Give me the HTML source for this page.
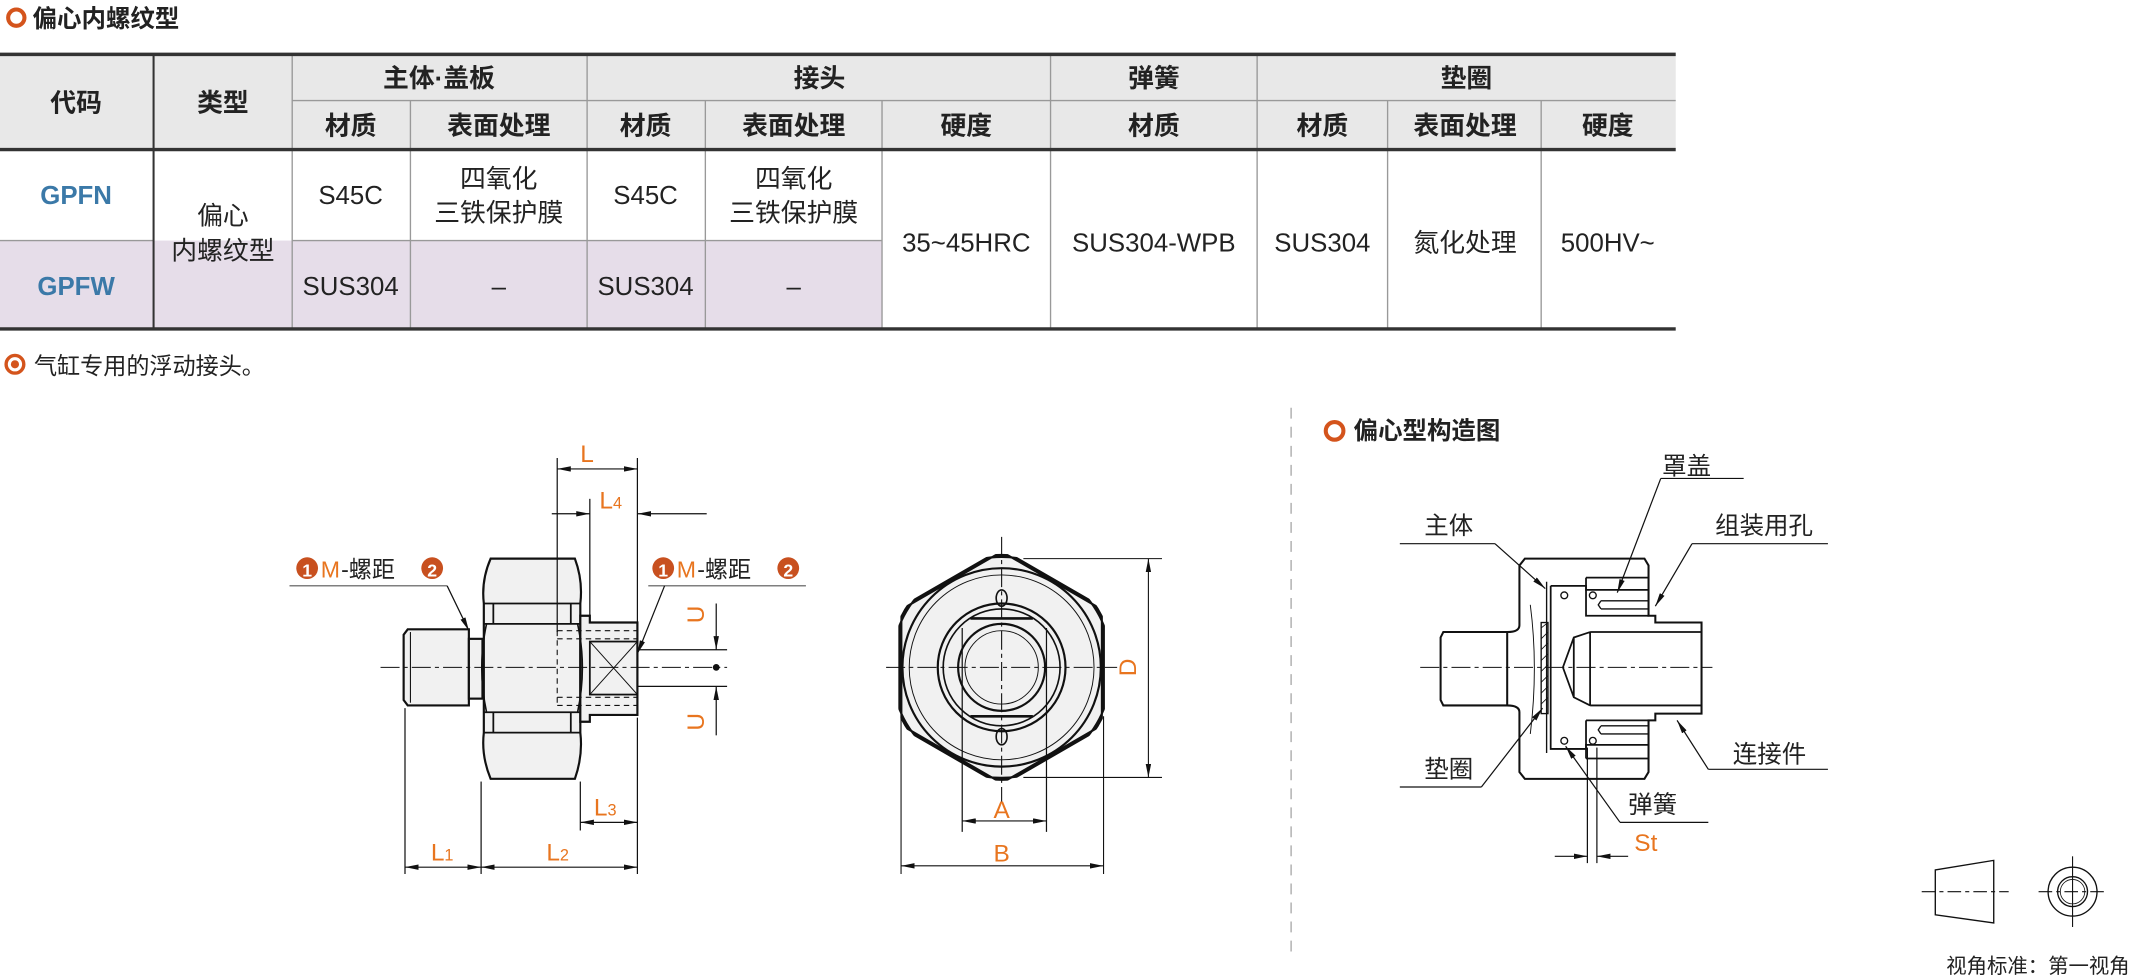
<!DOCTYPE html>
<html><head><meta charset="utf-8"><style>
html,body{margin:0;padding:0;background:#fff;}
svg{display:block;}
text{font-family:"Liberation Sans","Noto Sans CJK SC",sans-serif;fill:#222;}
.c{text-anchor:middle;}
.o{fill:#e8751f;}
.b{fill:#3b79a8;font-weight:bold;}
</style></head><body>
<svg width="2131" height="980" viewBox="0 0 1568 721" preserveAspectRatio="none" xmlns="http://www.w3.org/2000/svg">
<defs>
<marker id="a" viewBox="0 0 10 4" refX="10" refY="2" markerWidth="10" markerHeight="4" markerUnits="userSpaceOnUse" orient="auto-start-reverse"><path d="M0,0L10,2L0,4z" fill="#111"/></marker>
<clipPath id="cc"><circle cx="737" cy="491" r="82"/></clipPath>
<clipPath id="hc"><polygon points="737,405 811.5,448 811.5,534 737,577 662.5,534 662.5,448"/></clipPath>
</defs>

<!-- title -->
<circle cx="12" cy="13" r="6" fill="none" stroke="#d4541c" stroke-width="3"/>
<text x="24" y="20" font-size="18" font-weight="bold">偏心内螺纹型</text>

<!-- table backgrounds -->
<rect x="0" y="40" width="1233" height="70" fill="#e8e8e8"/>
<rect x="0" y="177" width="649" height="65" fill="#e6dde9"/>
<rect x="0" y="110" width="113" height="67" fill="#fff"/>
<g stroke="#999" stroke-width="1">
<line x1="215" y1="74" x2="1233" y2="74"/>
<line x1="0" y1="177" x2="113" y2="177"/>
<line x1="215" y1="177" x2="649" y2="177"/>
<line x1="215" y1="40" x2="215" y2="242"/>
<line x1="302" y1="74" x2="302" y2="242"/>
<line x1="432" y1="40" x2="432" y2="242"/>
<line x1="519" y1="74" x2="519" y2="242"/>
<line x1="649" y1="74" x2="649" y2="242"/>
<line x1="773" y1="40" x2="773" y2="242"/>
<line x1="925" y1="40" x2="925" y2="242"/>
<line x1="1021" y1="74" x2="1021" y2="242"/>
<line x1="1134" y1="74" x2="1134" y2="242"/>
</g>
<line x1="113" y1="40" x2="113" y2="242" stroke="#333" stroke-width="1.5"/>
<line x1="0" y1="40" x2="1233" y2="40" stroke="#333" stroke-width="2.5"/>
<line x1="0" y1="110" x2="1233" y2="110" stroke="#333" stroke-width="2.5"/>
<line x1="0" y1="242" x2="1233" y2="242" stroke="#333" stroke-width="2.5"/>

<g font-size="19" class="c">
<text x="56" y="82" class="c" font-weight="bold">代码</text>
<text x="164" y="82" class="c" font-weight="bold">类型</text>
<text x="323" y="64" class="c" font-weight="bold">主体·盖板</text>
<text x="603" y="64" class="c" font-weight="bold">接头</text>
<text x="849" y="64" class="c" font-weight="bold">弹簧</text>
<text x="1079" y="64" class="c" font-weight="bold">垫圈</text>
<text x="258" y="99" class="c" font-weight="bold">材质</text>
<text x="367" y="99" class="c" font-weight="bold">表面处理</text>
<text x="475" y="99" class="c" font-weight="bold">材质</text>
<text x="584" y="99" class="c" font-weight="bold">表面处理</text>
<text x="711" y="99" class="c" font-weight="bold">硬度</text>
<text x="849" y="99" class="c" font-weight="bold">材质</text>
<text x="973" y="99" class="c" font-weight="bold">材质</text>
<text x="1078" y="99" class="c" font-weight="bold">表面处理</text>
<text x="1183" y="99" class="c" font-weight="bold">硬度</text>
<text x="56" y="150" class="c b">GPFN</text>
<text x="56" y="217" class="c b">GPFW</text>
<text x="164" y="165" class="c">偏心</text>
<text x="164" y="191" class="c">内螺纹型</text>
<text x="258" y="150" class="c">S45C</text>
<text x="367" y="138" class="c">四氧化</text>
<text x="367" y="163" class="c">三铁保护膜</text>
<text x="475" y="150" class="c">S45C</text>
<text x="584" y="138" class="c">四氧化</text>
<text x="584" y="163" class="c">三铁保护膜</text>
<text x="258" y="217" class="c">SUS304</text>
<text x="367" y="217" class="c">–</text>
<text x="475" y="217" class="c">SUS304</text>
<text x="584" y="217" class="c">–</text>
<text x="711" y="185" class="c">35~45HRC</text>
<text x="849" y="185" class="c">SUS304-WPB</text>
<text x="973" y="185" class="c">SUS304</text>
<text x="1078" y="185" class="c">氮化处理</text>
<text x="1183" y="185" class="c">500HV~</text>
</g>

<circle cx="11" cy="268" r="6.5" fill="none" stroke="#d4541c" stroke-width="2.5"/>
<circle cx="11" cy="268" r="3" fill="#d4541c"/>
<text x="25" y="275" font-size="17">气缸专用的浮动接头。</text>

<!-- ===== side view ===== -->
<g stroke="#111" stroke-width="1.6" fill="#f1f1f1">
<path d="M300,463 H345 V519 H300 L297,515 V467 Z"/>
<rect x="345" y="470" width="10" height="44"/>
<path d="M361,411 H423 Q429,427 427,444 V539 Q429,556 423,573 H361 Q354,556 356,539 V444 Q354,427 361,411 Z"/>
<path d="M427,453 H434 V458 H469 V526 H434 V531 H427 Z"/>
</g>
<g stroke="#111" stroke-width="1.3" fill="none">
<line x1="302" y1="465" x2="302" y2="517" stroke-width="0.8"/>
<path d="M356,444 H427 M363,444 V459 M420,444 V459 M356,459 H427 M356,524 H427 M363,524 V539 M420,524 V539 M356,539 H427"/>
<path d="M358,459 Q351,491 358,524 M425,459 Q432,491 425,524" stroke-width="1.2"/>
<rect x="434" y="472" width="35" height="39" stroke-width="1.3"/>
<path d="M434,472 L469,511 M469,472 L434,511" stroke-width="0.7"/>
<path d="M410,464 H469 M410,470 H469 M410,513 H469 M410,519 H469 M410,464 V519" stroke-dasharray="4,3" stroke-width="0.8"/>
</g>
<line x1="280" y1="491" x2="535" y2="491" stroke="#111" stroke-width="0.8" stroke-dasharray="14,3,3,3"/>
<circle cx="527" cy="491" r="2.5" fill="#111"/>
<g stroke="#111" stroke-width="0.9" fill="none">
<line x1="410" y1="337" x2="410" y2="465"/>
<line x1="469" y1="337" x2="469" y2="458"/>
<line x1="434" y1="367" x2="434" y2="453"/>
<line x1="410" y1="345" x2="469" y2="345" marker-start="url(#a)" marker-end="url(#a)"/>
<line x1="406" y1="378" x2="434" y2="378" marker-end="url(#a)"/>
<line x1="520" y1="378" x2="469" y2="378" marker-end="url(#a)"/>
<line x1="469" y1="478" x2="535" y2="478"/>
<line x1="469" y1="505" x2="535" y2="505"/>
<line x1="527" y1="444" x2="527" y2="478" marker-end="url(#a)"/>
<line x1="527" y1="541" x2="527" y2="505" marker-end="url(#a)"/>
<line x1="298" y1="521" x2="298" y2="643"/>
<line x1="354" y1="575" x2="354" y2="643"/>
<line x1="427" y1="575" x2="427" y2="611"/>
<line x1="469" y1="528" x2="469" y2="643"/>
<line x1="298" y1="638" x2="354" y2="638" marker-start="url(#a)" marker-end="url(#a)"/>
<line x1="354" y1="638" x2="469" y2="638" marker-start="url(#a)" marker-end="url(#a)"/>
<line x1="427" y1="605" x2="469" y2="605" marker-start="url(#a)" marker-end="url(#a)"/>
<line x1="213" y1="431" x2="329" y2="431" stroke="#555"/>
<line x1="329" y1="431" x2="345" y2="464" marker-end="url(#a)"/>
<line x1="477" y1="431" x2="593" y2="431" stroke="#555"/>
<line x1="489" y1="431" x2="469" y2="481" marker-end="url(#a)"/>
</g>
<g font-size="18">
<text x="432" y="340" class="c o">L</text>
<text x="441" y="374" class="o">L<tspan font-size="12">4</tspan></text>
<text x="437" y="600" class="o">L<tspan font-size="12">3</tspan></text>
<text x="317" y="633" class="o">L<tspan font-size="12">1</tspan></text>
<text x="402" y="633" class="o">L<tspan font-size="12">2</tspan></text>
<text transform="translate(518,452) rotate(-90)" class="c o">U</text>
<text transform="translate(518,531) rotate(-90)" class="c o">U</text>
</g>
<g font-size="17">
<circle cx="226" cy="418" r="8" fill="#c8501f"/><text x="226" y="424" class="c" style="fill:#fff" font-size="13" font-weight="bold">1</text>
<text x="236" y="425" class="o">M</text><text x="251" y="425">-螺距</text>
<circle cx="318" cy="418" r="8" fill="#c8501f"/><text x="318" y="424" class="c" style="fill:#fff" font-size="13" font-weight="bold">2</text>
<circle cx="488" cy="418" r="8" fill="#c8501f"/><text x="488" y="424" class="c" style="fill:#fff" font-size="13" font-weight="bold">1</text>
<text x="498" y="425" class="o">M</text><text x="513" y="425">-螺距</text>
<circle cx="580" cy="418" r="8" fill="#c8501f"/><text x="580" y="424" class="c" style="fill:#fff" font-size="13" font-weight="bold">2</text>
</g>

<!-- ===== front view ===== -->
<polygon points="737,405 811.5,448 811.5,534 737,577 662.5,534 662.5,448" clip-path="url(#cc)" fill="#f1f1f1" stroke="#111" stroke-width="3"/>
<circle cx="737" cy="491" r="82" clip-path="url(#hc)" fill="none" stroke="#111" stroke-width="3"/>
<g fill="none" stroke="#111">
<circle cx="737" cy="491" r="73" stroke-width="1.6"/>
<circle cx="737" cy="491" r="68" stroke-width="0.7"/>
<circle cx="737" cy="491" r="47" stroke-width="1.6"/>
<circle cx="737" cy="491" r="43" stroke-width="1.2"/>
<circle cx="737" cy="491" r="32" stroke-width="1.6"/>
<circle cx="737" cy="491" r="27" stroke-width="0.7"/>
<path d="M714,455 H760 M714,527 H760" stroke-width="2"/>
<line x1="708" y1="462" x2="708" y2="612" stroke-width="0.9"/>
<line x1="770" y1="462" x2="770" y2="612" stroke-width="0.9"/>
<ellipse cx="737" cy="440" rx="4" ry="6" stroke-width="1.2"/>
<ellipse cx="737" cy="542" rx="4" ry="6" stroke-width="1.2"/>
</g>
<g stroke="#111" stroke-width="0.8" fill="none">
<line x1="737" y1="395" x2="737" y2="590" stroke-dasharray="14,3,3,3"/>
<line x1="652" y1="491" x2="822" y2="491" stroke-dasharray="14,3,3,3"/>
<line x1="753" y1="411" x2="855" y2="411"/>
<line x1="753" y1="572" x2="855" y2="572"/>
<line x1="845" y1="411" x2="845" y2="572" marker-start="url(#a)" marker-end="url(#a)"/>
<line x1="663" y1="527" x2="663" y2="643"/>
<line x1="812" y1="527" x2="812" y2="643"/>
<line x1="708" y1="604" x2="770" y2="604" marker-start="url(#a)" marker-end="url(#a)"/>
<line x1="663" y1="637" x2="812" y2="637" marker-start="url(#a)" marker-end="url(#a)"/>
</g>
<g font-size="18">
<text x="737" y="602" class="c o">A</text>
<text x="737" y="634" class="c o">B</text>
<text transform="translate(836,491) rotate(-90)" class="c o">D</text>
</g>

<!-- ===== right panel ===== -->
<line x1="950" y1="300" x2="950" y2="705" stroke="#aaa" stroke-width="1" stroke-dasharray="8,6"/>
<circle cx="982" cy="317" r="6.5" fill="none" stroke="#d4541c" stroke-width="3"/>
<text x="996" y="323" font-size="18" font-weight="bold">偏心型构造图</text>

<g stroke="#111" stroke-width="1.5" fill="none">
<path d="M1062,465 H1109 V519 H1062 L1060,515 V469 Z"/>
<path d="M1109,465 Q1118,465 1118,460 V416 L1122,411 H1210 L1213,416 V453 H1218 V458 H1252 V525 H1218 V530 H1213 V568 L1210,573 H1122 L1118,568 V524 Q1118,519 1109,519"/>
<path d="M1141,431 H1167 V434 H1213 M1141,431 V551 H1167 V548 H1213" stroke-width="1.3"/>
<path d="M1138,428 V554" stroke-width="1"/>
<path d="M1167,425 H1213 M1167,425 V453 H1213" stroke-width="1.3"/>
<path d="M1167,530 H1213 M1167,558 H1213 M1167,530 V558" stroke-width="1.3"/>
<path d="M1178,442 H1213 M1178,448 H1213 M1178,442 L1176,445 L1178,448 M1178,534 H1213 M1178,540 H1213 M1178,534 L1176,537 L1178,540" stroke-width="1"/>
<rect x="1134" y="458" width="5" height="67" stroke-width="1"/>
<path d="M1134,462 L1139,458 M1134,470 L1139,465 M1134,478 L1139,473 M1134,486 L1139,481 M1134,494 L1139,489 M1134,502 L1139,497 M1134,510 L1139,505 M1134,518 L1139,513" stroke-width="0.6"/>
<path d="M1170,465 H1252 M1170,519 H1252 M1170,465 L1158,469 L1150,491 L1158,513 L1170,519 M1170,465 V519 M1158,469 V513" stroke-width="1.3"/>
<path d="M1126,445 Q1132,491 1126,540" stroke-width="0.7"/>
<circle cx="1151" cy="438" r="2.5" stroke-width="1"/><circle cx="1172" cy="438" r="2.5" stroke-width="1"/>
<circle cx="1151" cy="545" r="2.5" stroke-width="1"/><circle cx="1172" cy="545" r="2.5" stroke-width="1"/>
</g>
<line x1="1045" y1="491" x2="1260" y2="491" stroke="#111" stroke-width="0.8" stroke-dasharray="14,3,3,3"/>
<g stroke="#111" stroke-width="0.9" fill="none">
<line x1="1222" y1="352" x2="1283" y2="352"/>
<line x1="1222" y1="352" x2="1190" y2="436" marker-end="url(#a)"/>
<line x1="1030" y1="400" x2="1100" y2="400"/>
<line x1="1100" y1="400" x2="1137" y2="433" marker-end="url(#a)"/>
<line x1="1245" y1="400" x2="1345" y2="400"/>
<line x1="1245" y1="400" x2="1218" y2="446" marker-end="url(#a)"/>
<line x1="1030" y1="579" x2="1090" y2="579"/>
<line x1="1090" y1="579" x2="1135" y2="521" marker-end="url(#a)"/>
<line x1="1257" y1="566" x2="1345" y2="566"/>
<line x1="1257" y1="566" x2="1234" y2="530" marker-end="url(#a)"/>
<line x1="1192" y1="605" x2="1257" y2="605"/>
<line x1="1192" y1="605" x2="1152" y2="549" marker-end="url(#a)"/>
<line x1="1168" y1="550" x2="1168" y2="635"/>
<line x1="1175" y1="550" x2="1175" y2="635"/>
<line x1="1144" y1="630" x2="1168" y2="630" marker-end="url(#a)"/>
<line x1="1198" y1="630" x2="1175" y2="630" marker-end="url(#a)"/>
</g>
<g font-size="18">
<text x="1241" y="349" class="c">罩盖</text>
<text x="1066" y="393" class="c">主体</text>
<text x="1298" y="393" class="c">组装用孔</text>
<text x="1066" y="572" class="c">垫圈</text>
<text x="1302" y="561" class="c">连接件</text>
<text x="1216" y="598" class="c">弹簧</text>
<text x="1211" y="626" class="c o">St</text>
</g>

<g stroke="#111" stroke-width="1" fill="none">
<path d="M1424,640 L1467,633 V679 L1424,673 Z"/>
<line x1="1414" y1="656" x2="1478" y2="656" stroke-dasharray="10,3,3,3" stroke-width="0.8"/>
<circle cx="1525" cy="656" r="18"/>
<circle cx="1525" cy="656" r="11"/>
<circle cx="1525" cy="656" r="9" stroke-width="0.6"/>
<line x1="1500" y1="656" x2="1550" y2="656" stroke-dasharray="10,3,3,3" stroke-width="0.8"/>
<line x1="1525" y1="630" x2="1525" y2="682" stroke-width="0.8"/>
</g>
<text x="1567" y="716" font-size="15" text-anchor="end">视角标准：第一视角</text>
</svg>
</body></html>
